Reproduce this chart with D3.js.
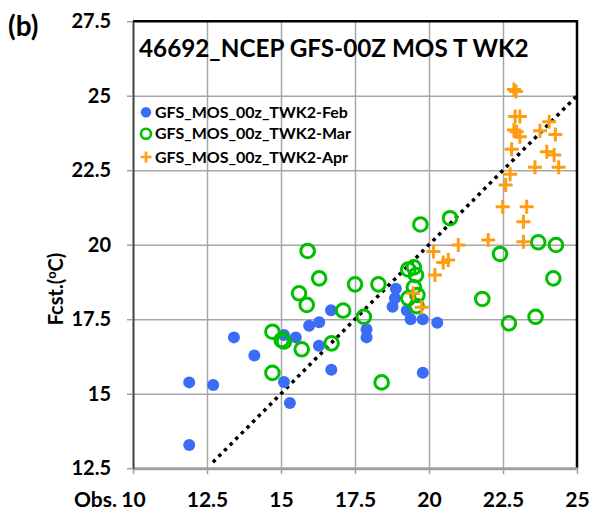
<!DOCTYPE html>
<html><head><meta charset="utf-8">
<script src="https://cdn.jsdelivr.net/npm/d3@7"></script>
<style>body{margin:0;background:#fff}svg{display:block}</style></head>
<body><svg id="c" width="590" height="511"></svg>
<script>
const chartTitle = "46692_NCEP GFS-00Z MOS T WK2";
const panelLabel = "(b)";
const seriesNames = ["GFS_MOS_00z_TWK2-Feb", "GFS_MOS_00z_TWK2-Mar", "GFS_MOS_00z_TWK2-Apr"];
const xTicks = [10, 12.5, 15, 17.5, 20, 22.5, 25];
const yTicks = [12.5, 15, 17.5, 20, 22.5, 25, 27.5];
const xTickLabels = ["10", "12.5", "15", "17.5", "20", "22.5", "25"];
const yTickLabels = ["12.5", "15", "17.5", "20", "22.5", "25", "27.5"];
const refLine = [12.7, 25.05];

const febObs  = [11.90, 12.71, 11.90, 13.41, 14.10, 15.10, 15.50, 15.95, 15.10, 15.30, 16.29, 16.69, 16.28, 16.70, 17.89, 17.89, 18.88, 18.85, 18.77, 19.25, 19.38, 19.79, 20.28, 19.79];
const febFcst = [15.38, 15.29, 13.28, 16.89, 16.28, 16.97, 16.89, 17.28, 15.39, 14.69, 17.40, 17.80, 16.61, 15.80, 17.16, 16.89, 18.52, 18.20, 17.92, 17.79, 17.50, 17.50, 17.38, 15.70];

const marObs  = [14.71, 15.02, 15.10, 15.70, 14.71, 15.61, 15.87, 15.90, 16.29, 17.10, 16.71, 19.71, 20.71, 17.50, 18.29, 17.80, 18.40, 19.30, 19.49, 19.56, 19.49, 19.30, 19.61, 19.58, 22.40, 23.69, 24.29, 24.20, 21.80, 22.70, 23.60];
const marFcst = [17.08, 16.80, 16.75, 16.49, 15.70, 18.37, 17.98, 19.79, 18.87, 17.79, 16.69, 20.68, 20.89, 18.67, 18.67, 17.58, 15.38, 19.17, 19.24, 18.98, 18.57, 18.20, 18.31, 17.94, 19.69, 20.08, 19.99, 18.87, 18.18, 17.36, 17.58];

const aprObs  = [22.87, 22.94, 22.91, 23.07, 22.87, 22.96, 23.07, 22.79, 24.06, 23.75, 24.27, 23.98, 24.23, 23.58, 24.38, 22.74, 22.59, 22.49, 23.30, 23.19, 22.00, 23.19, 20.99, 20.65, 20.48, 20.15, 20.20, 19.47, 19.75];
const aprFcst = [25.21, 25.14, 24.30, 24.30, 23.85, 23.79, 23.62, 23.20, 24.13, 23.82, 23.70, 23.12, 23.01, 22.60, 22.60, 22.36, 22.00, 21.27, 21.27, 20.77, 20.16, 20.10, 19.99, 19.49, 19.40, 19.77, 18.98, 18.37, 17.90];

const FONT = "Lato, 'Open Sans', sans-serif";
const cBlue = "#3b6cf6", cGreen = "#00bf00", cOrange = "#ff9d12";

const L = 133, R = 577, T = 21.2, B = 468.2;
const svg = d3.select("#c");
const x = d3.scaleLinear().domain([10, 25]).range([L, R]);
const y = d3.scaleLinear().domain([12.5, 27.5]).range([B, T]);

const boldText = (sel, size) => sel.style("font-family", FONT).style("font-weight", "700").style("font-size", size + "px").attr("fill", "#000");

// grid
const grid = svg.append("g");
grid.append("g").attr("transform", `translate(0,${B})`)
  .call(d3.axisBottom(x).tickValues(xTicks.slice(1, -1)).tickSize(-(B - T)).tickFormat(""))
  .call(g => g.select(".domain").remove())
  .call(g => g.selectAll("line").attr("stroke", "#a6a6a6").attr("stroke-width", 1.5));
grid.append("g").attr("transform", `translate(${L},0)`)
  .call(d3.axisLeft(y).tickValues(yTicks.slice(1, -1)).tickSize(-(R - L)).tickFormat(""))
  .call(g => g.select(".domain").remove())
  .call(g => g.selectAll("line").attr("stroke", "#a6a6a6").attr("stroke-width", 1.5));

// frame top/right
svg.append("path").attr("d", `M${L},${T}H${R}V${B}`).attr("fill", "none").attr("stroke", "#000").attr("stroke-width", 2.5);

// axes
const xAx = svg.append("g").attr("transform", `translate(0,${B})`)
  .call(d3.axisBottom(x).tickValues(xTicks).tickSize(6).tickSizeOuter(0).tickFormat((d, i) => xTickLabels[i]));
xAx.select(".domain").attr("stroke", "#a0a0a0").attr("stroke-width", 3);
xAx.selectAll(".tick line").attr("stroke", "#a0a0a0").attr("stroke-width", 1.5);
boldText(xAx.selectAll(".tick text"), 21).attr("y", 24);

const yAx = svg.append("g").attr("transform", `translate(${L},0)`)
  .call(d3.axisLeft(y).tickValues(yTicks).tickSize(6).tickSizeOuter(0).tickFormat((d, i) => yTickLabels[i]));
yAx.select(".domain").attr("stroke", "#404040").attr("stroke-width", 2);
yAx.selectAll(".tick line").attr("stroke", "#a0a0a0").attr("stroke-width", 1.5);
boldText(yAx.selectAll(".tick text"), 20).attr("x", -22);

boldText(svg.append("text"), 21).attr("x", 117).attr("y", 507).attr("text-anchor", "end").text("Obs.");

// y title
const yt = boldText(svg.append("text"), 20).attr("transform", "translate(63,289) rotate(-90)").attr("text-anchor", "middle");
yt.append("tspan").text("Fcst.(");
yt.append("tspan").style("font-size", "13px").attr("dy", -7).text("o");
yt.append("tspan").attr("dy", 7).text("C)");

// panel label
boldText(svg.append("text"), 28).attr("x", 8).attr("y", 36).text(panelLabel);

// reference line
svg.append("line").attr("x1", x(refLine[0])).attr("y1", y(refLine[0])).attr("x2", x(refLine[1])).attr("y2", y(refLine[1]))
  .attr("stroke", "#000").attr("stroke-width", 3.5).attr("stroke-dasharray", "3.5,4.5");

// series
const feb = febObs.map((d, i) => [d, febFcst[i]]);
const mar = marObs.map((d, i) => [d, marFcst[i]]);
const apr = aprObs.map((d, i) => [d, aprFcst[i]]);

svg.append("g").selectAll("circle").data(feb).join("circle")
  .attr("cx", d => x(d[0])).attr("cy", d => y(d[1])).attr("r", 6).attr("fill", cBlue);
svg.append("g").selectAll("circle").data(mar).join("circle")
  .attr("cx", d => x(d[0])).attr("cy", d => y(d[1])).attr("r", 6.8).attr("fill", "none").attr("stroke", cGreen).attr("stroke-width", 3);
const plus = (cx, cy, s) => `M${cx - s},${cy}H${cx + s}M${cx},${cy - s}V${cy + s}`;
svg.append("g").selectAll("path").data(apr).join("path")
  .attr("d", d => plus(x(d[0]), y(d[1]), 7)).attr("stroke", cOrange).attr("stroke-width", 3).attr("fill", "none");

// title
const title = boldText(svg.append("text"), 26).attr("x", 139).attr("y", 57).text(chartTitle);
const tw = title.node().getComputedTextLength();
title.style("font-size", (26 * 390 / tw) + "px");

// legend
const lg = svg.append("g");
const rows = [112.3, 133.8, 157];
let fs = 15;
seriesNames.forEach((name, i) => {
  const cy = rows[i];
  if (i === 0) lg.append("circle").attr("cx", 146).attr("cy", cy).attr("r", 5.2).attr("fill", cBlue);
  if (i === 1) lg.append("circle").attr("cx", 146).attr("cy", cy).attr("r", 5).attr("fill", "none").attr("stroke", cGreen).attr("stroke-width", 2.6);
  if (i === 2) lg.append("path").attr("d", plus(146, cy, 5.5)).attr("stroke", cOrange).attr("stroke-width", 2.6);
  const t = boldText(lg.append("text"), 15).attr("class", "lt").attr("x", 155).attr("y", cy).attr("dy", "0.35em").text(name);
  if (i === 0) fs = 15 * 193 / t.node().getComputedTextLength();
});
lg.selectAll("text.lt").style("font-size", fs + "px");
</script>
</body></html>
